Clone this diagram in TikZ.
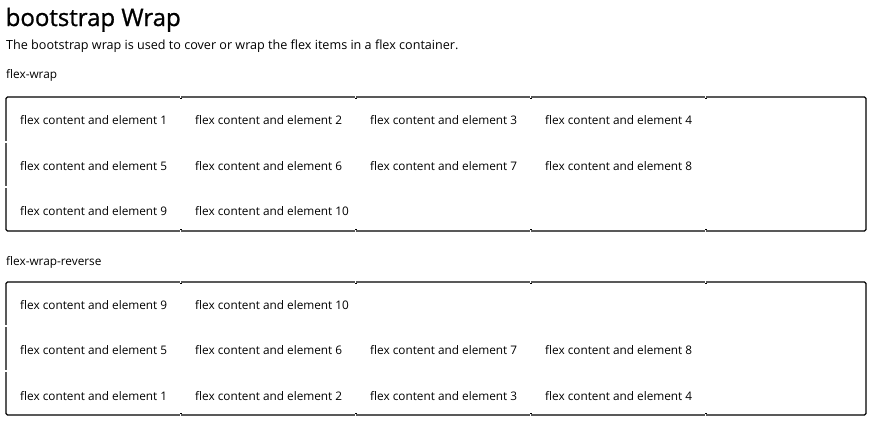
\documentclass[tikz,border=0pt]{standalone}
\usepackage{fontspec}
\setmainfont{Open Sans}
\newfontfamily\ttlfont{Open Sans}[FakeBold=1]
\begin{document}
\begin{tikzpicture}[x=1pt,y=-1pt,
  txt/.style={anchor=base west, inner sep=0pt, font=\fontsize{11.8}{14}\selectfont},
  subt/.style={anchor=base west, inner sep=0pt, font=\fontsize{12.6}{15}\selectfont},
  ttl/.style={anchor=base west, inner sep=0pt, font=\ttlfont\fontsize{24}{28}\selectfont},
  box/.style={draw=black, line width=1.3pt, rounded corners=1.5pt},
  gap/.style={fill=white},
  dot/.style={fill=black}]
\useasboundingbox (0,0) rectangle (872,423);
\node[ttl] (title) at (5.5,26) {bootstrap Wrap};
\node[subt] (sub) at (6,49) {The bootstrap wrap is used to cover or wrap the flex items in a flex container.};
\node[txt] (lab1) at (6,78) {flex-wrap};
% first container
\draw[box] (6,97) rectangle (866,231);
\foreach \n/\c/\r in {1/0/0,2/1/0,3/2/0,4/3/0,5/0/1,6/1/1,7/2/1,8/3/1,9/0/2,10/1/2}
  \node[txt] (a\n) at (20+175*\c,124.5+45.5*\r) {flex content and element \n};
\foreach \x in {181,356,531,706} {
  \fill[gap] (\x-1.2,96) rectangle (\x+0.4,98.2);
  \fill[dot] (\x-0.6,97.6) rectangle (\x+0.8,99.2);
  \fill[gap] (\x-1.2,229.8) rectangle (\x+0.4,232);
  \fill[dot] (\x-0.6,228.8) rectangle (\x+0.8,230.4);
}
\foreach \y in {142,187} \fill[gap] (5,\y-1) rectangle (7.5,\y+1);
% second container
\node[txt] (lab2) at (6,265) {flex-wrap-reverse};
\draw[box] (6,282) rectangle (866,415);
\foreach \n/\c/\r in {9/0/0,10/1/0,5/0/1,6/1/1,7/2/1,8/3/1,1/0/2,2/1/2,3/2/2,4/3/2}
  \node[txt] (b\n) at (20+175*\c,309+45.5*\r) {flex content and element \n};
\foreach \x in {181,356,531,706} {
  \fill[gap] (\x-1.2,281) rectangle (\x+0.4,283.2);
  \fill[dot] (\x-0.6,282.6) rectangle (\x+0.8,284.2);
  \fill[gap] (\x-1.2,413.8) rectangle (\x+0.4,416);
  \fill[dot] (\x-0.6,412.8) rectangle (\x+0.8,414.4);
}
\foreach \y in {326,371} \fill[gap] (5,\y-1) rectangle (7.5,\y+1);
\end{tikzpicture}
\end{document}
